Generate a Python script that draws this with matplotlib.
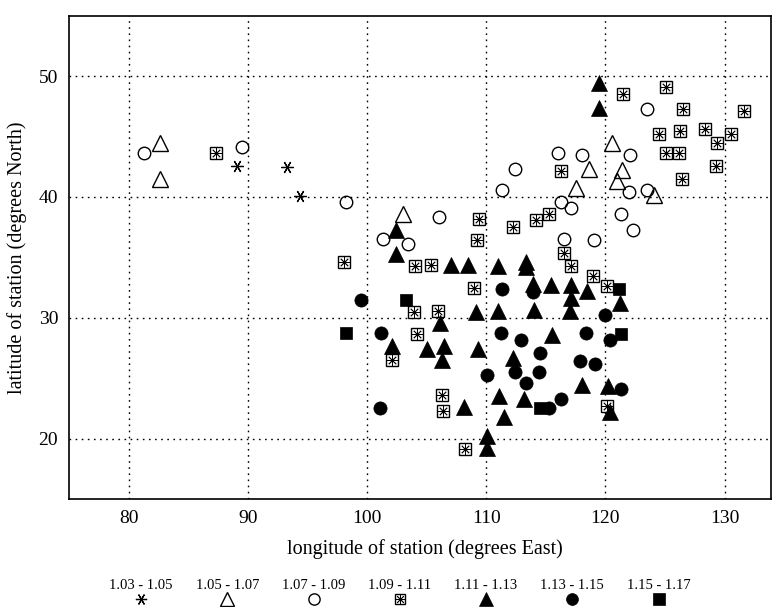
import matplotlib.pyplot as plt

plt.rcParams['font.family'] = ['Liberation Serif', 'DejaVu Serif']

# station positions (longitude E, latitude N), grouped by ratio class
ast_lon = [89.1, 93.25, 94.4]
ast_lat = [42.6, 42.5, 40.1]

otri_lon = [82.6, 82.65, 103.0, 120.55, 118.6, 121.4, 121.0, 124.1, 117.5]
otri_lat = [44.5, 41.5, 38.6, 44.5, 42.35, 42.2, 41.3, 40.2, 40.7]

ocir_lon = [81.25, 89.5, 98.25, 101.3, 103.45, 106.0, 111.35, 112.45, 116.0, 118.0,
            122.1, 123.5, 122.0, 123.45, 116.25, 117.1, 121.35, 122.3, 116.5, 119.05]
ocir_lat = [43.6, 44.1, 39.6, 36.5, 36.1, 38.35, 40.55, 42.3, 43.6, 43.5,
            43.45, 47.3, 40.4, 40.55, 39.6, 39.1, 38.6, 37.3, 36.5, 36.45]

box_lon = [87.35, 98.05, 104.0, 105.4, 109.35, 109.2, 112.25, 114.2, 115.3, 116.25,
           108.95, 103.9, 105.95, 104.2, 102.05, 106.25, 106.4, 108.25, 116.5, 117.15,
           118.95, 120.15, 120.1, 121.45, 125.1, 126.5, 131.6, 124.5, 126.3, 128.4,
           130.55, 129.4, 125.05, 126.2, 129.25, 126.45]
box_lat = [43.6, 34.6, 34.3, 34.4, 38.2, 36.45, 37.5, 38.1, 38.55, 42.15,
           32.5, 30.5, 30.55, 28.65, 26.5, 23.6, 22.3, 19.1, 35.4, 34.3,
           33.45, 32.6, 22.7, 48.55, 49.1, 47.3, 47.15, 45.2, 45.45, 45.65,
           45.25, 44.45, 43.6, 43.6, 42.6, 41.5]

ftri_lon = [119.45, 119.5, 102.45, 102.4, 107.0, 108.45, 111.0, 113.35, 113.35, 113.9,
            115.45, 117.15, 117.15, 118.45, 121.2, 109.15, 111.0, 114.0, 117.0, 106.15,
            102.05, 105.05, 106.45, 106.3, 109.3, 112.25, 115.5, 111.05, 113.15, 108.1,
            111.5, 110.1, 110.1, 118.0, 120.2, 120.4]
ftri_lat = [49.4, 47.4, 37.3, 35.25, 34.4, 34.4, 34.25, 34.6, 34.2, 32.8,
            32.75, 32.75, 31.65, 32.2, 31.25, 30.45, 30.6, 30.65, 30.6, 29.55,
            27.65, 27.4, 27.65, 26.5, 27.4, 26.7, 28.55, 23.5, 23.25, 22.65,
            21.75, 20.2, 19.25, 24.45, 24.35, 22.2]

fcir_lon = [99.45, 101.2, 101.05, 111.3, 113.95, 111.25, 112.95, 114.5, 118.4, 120.35,
            120.0, 110.05, 112.45, 114.4, 113.3, 117.9, 119.1, 121.35, 116.3, 115.25]
fcir_lat = [31.5, 28.7, 22.5, 32.4, 32.15, 28.7, 28.2, 27.1, 28.7, 28.15,
            30.25, 25.25, 25.5, 25.55, 24.6, 26.45, 26.15, 24.1, 23.3, 22.55]

fsq_lon = [103.25, 98.2, 121.15, 121.35, 114.55]
fsq_lat = [31.5, 28.7, 32.35, 28.65, 22.5]

classes = ['1.03 - 1.05', '1.05 - 1.07', '1.07 - 1.09', '1.09 - 1.11',
           '1.11 - 1.13', '1.13 - 1.15', '1.15 - 1.17']

x_ticks = [80, 90, 100, 110, 120, 130]
y_ticks = [20, 30, 40, 50]


def draw_class(ax, i, x, y, clip=True, k=1.0):
    kw = dict(linestyle='none', zorder=3, clip_on=clip)
    if i == 0:
        ax.plot(x, y, marker=(6, 2, 90), ms=9 * k, mec='black', mew=0.9, **kw)
    elif i == 1:
        ax.plot(x, y, marker='^', ms=11 * k, mfc='none', mec='black', mew=1.0, **kw)
    elif i == 2:
        ax.plot(x, y, marker='o', ms=9 * k, mfc='none', mec='black', mew=1.0, **kw)
    elif i == 3:
        ax.plot(x, y, marker='s', ms=8.5 * k, mfc='white', mec='black', mew=1.0, **kw)
        ax.plot(x, y, marker=(8, 2, 0), ms=7.5 * k, mec='black', mew=0.6, **kw)
    elif i == 4:
        ax.plot(x, y, marker='^', ms=11 * k, mfc='black', mec='black', mew=0.5, **kw)
    elif i == 5:
        ax.plot(x, y, marker='o', ms=9.5 * k, mfc='black', mec='black', mew=0.5, **kw)
    else:
        ax.plot(x, y, marker='s', ms=9 * k, mfc='black', mec='black', mew=0.5, **kw)


fig = plt.figure(figsize=(7.73, 6.07), dpi=100)
ax = fig.add_axes([0.0897, 0.1779, 0.9077, 0.7962])

series = [(ast_lon, ast_lat), (otri_lon, otri_lat), (ocir_lon, ocir_lat),
          (box_lon, box_lat), (ftri_lon, ftri_lat), (fcir_lon, fcir_lat),
          (fsq_lon, fsq_lat)]
for i, (lon, lat) in enumerate(series):
    draw_class(ax, i, lon, lat)

ax.set_xlim(75, 133.9)
ax.set_ylim(15, 55)
ax.set_xticks(x_ticks)
ax.set_yticks(y_ticks)
ax.tick_params(length=0, labelsize=14, pad=8)
ax.grid(True, color='black', linestyle=(0, (1.2, 3.2)), linewidth=1.0)
ax.set_axisbelow(True)
for s in ax.spines.values():
    s.set_linewidth(1.2)

ax.set_xlabel('longitude of station (degrees East)', fontsize=14.5)
ax.set_ylabel('latitude of station (degrees North)', fontsize=14.5)
ax.xaxis.set_label_coords(0.507, -0.083)
ax.yaxis.set_label_coords(-0.061, 0.5)

# key row under the plot: class label above its symbol
lax = fig.add_axes([0.1268, 0.0, 0.781, 0.0527])
lax.set_xlim(-0.5, 6.5)
lax.set_ylim(0, 1)
lax.axis('off')
for i, name in enumerate(classes):
    lax.text(i, 0.68, name, ha='center', va='center', fontsize=10.5)
    draw_class(lax, i, [i], [0.26], clip=False, k=0.9)

fig.savefig('out.png', dpi=100)
